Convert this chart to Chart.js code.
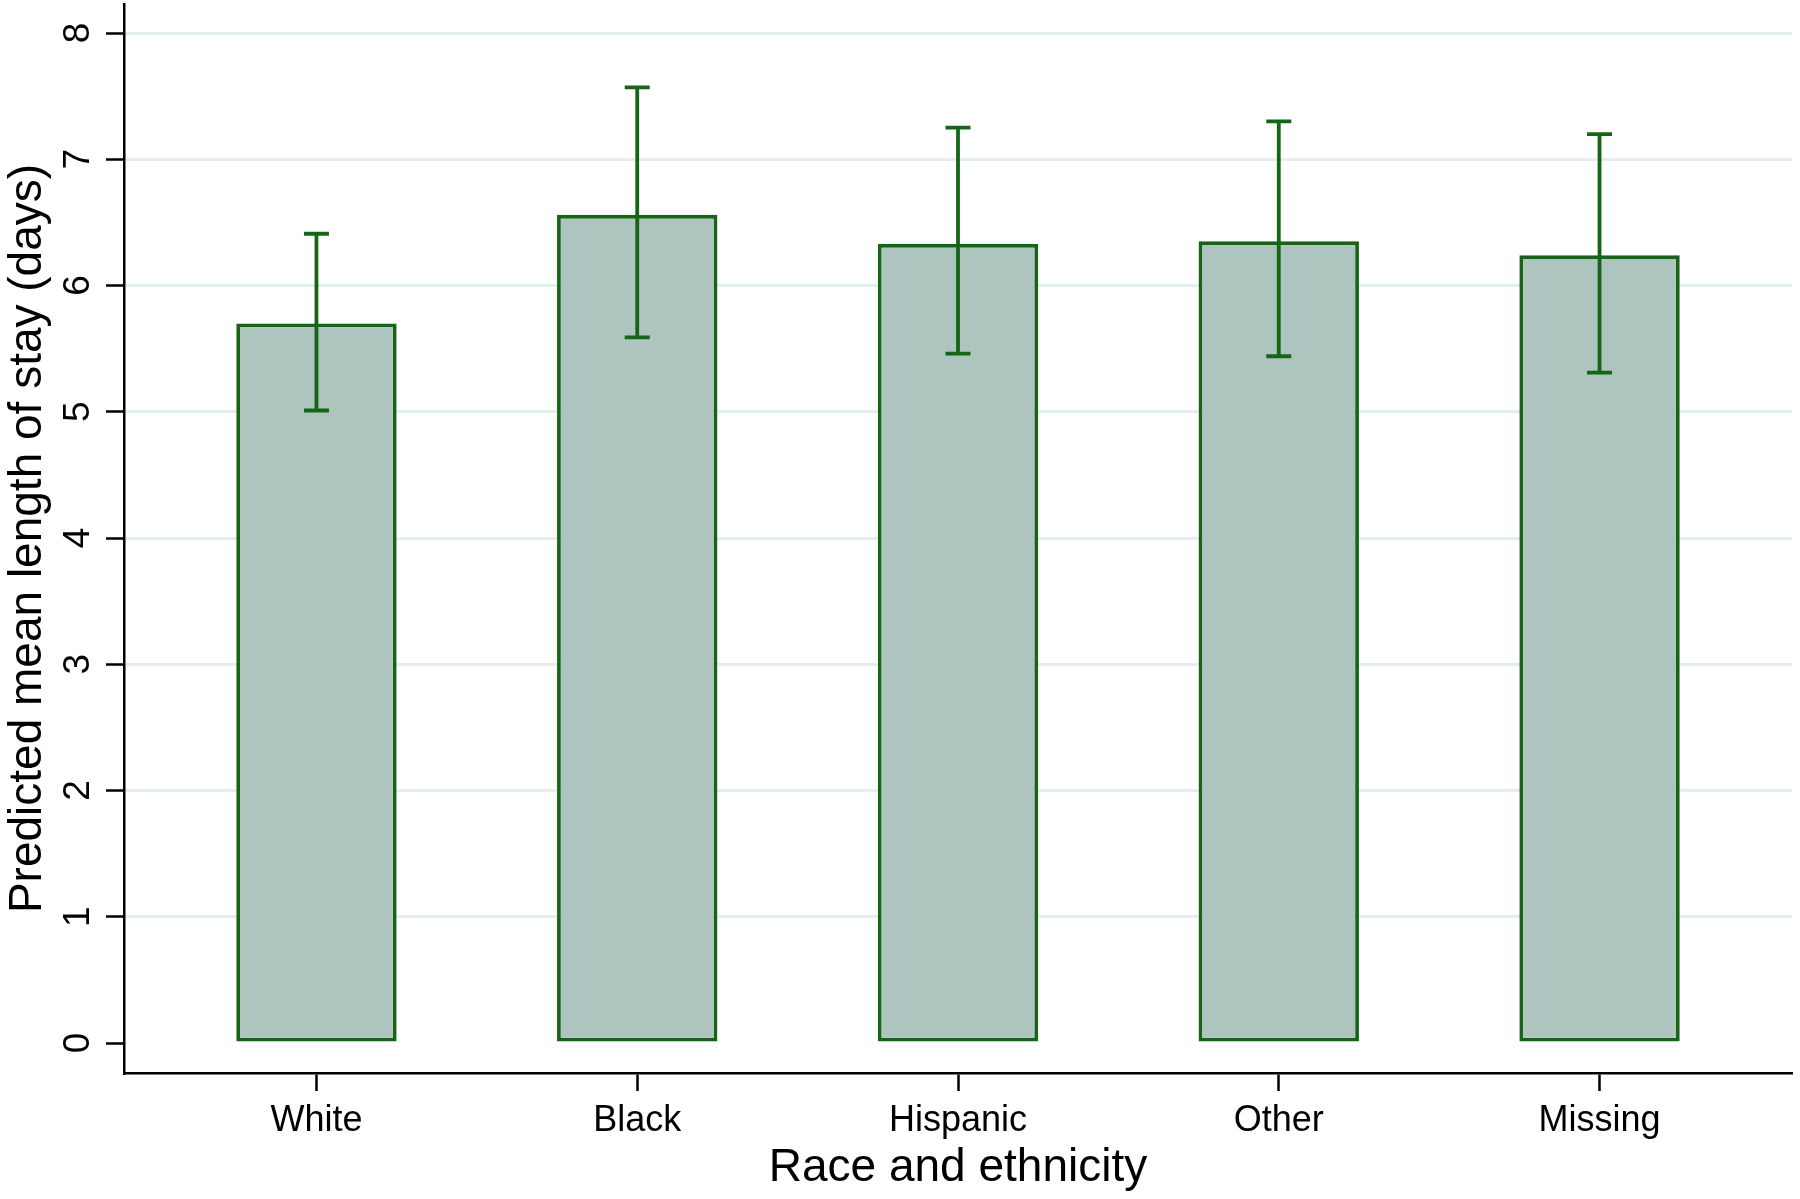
<!DOCTYPE html>
<html>
<head>
<meta charset="utf-8">
<title>Predicted mean length of stay by race and ethnicity</title>
<script src="https://cdn.jsdelivr.net/npm/chart.js@4.4.0/dist/chart.umd.min.js"></script>
<style>
  html, body { margin: 0; padding: 0; background: #fff; }
  #wrap { width: 1800px; height: 1199px; position: relative; }
</style>
</head>
<body>
<div id="wrap"><canvas id="losChart"></canvas></div>
<script>
// Values
var categories = ['White', 'Black', 'Hispanic', 'Other', 'Missing'];
var meanStay = [5.70, 6.56, 6.33, 6.35, 6.24];
var ciLower = [5.01, 5.59, 5.46, 5.44, 5.31];
var ciUpper = [6.41, 7.57, 7.25, 7.30, 7.20];
var yTicks = [0, 1, 2, 3, 4, 5, 6, 7, 8];

var green = '#156515';

Chart.defaults.font.family = '"Liberation Sans", Arial, Helvetica, sans-serif';
Chart.defaults.color = '#000';

// Draw the confidence intervals on top of the bars
var errorBars = {
    id: 'errorBars',
    afterDatasetsDraw: function(chart) {
        var ctx = chart.ctx;
        var xs = chart.scales.x;
        var ys = chart.scales.y;
        ctx.save();
        ctx.strokeStyle = green;
        ctx.lineWidth = 3.8;
        categories.forEach(function(c, i) {
            var px = xs.getPixelForValue(i);
            var top = ys.getPixelForValue(ciUpper[i]);
            var bot = ys.getPixelForValue(ciLower[i]);
            ctx.beginPath();
            ctx.moveTo(px, top);
            ctx.lineTo(px, bot);
            ctx.moveTo(px - 12.5, top);
            ctx.lineTo(px + 12.5, top);
            ctx.moveTo(px - 12.5, bot);
            ctx.lineTo(px + 12.5, bot);
            ctx.stroke();
        });
        ctx.restore();
    }
};

var ctx = document.getElementById('losChart').getContext('2d');
new Chart(ctx, {
    type: 'bar',
    data: {
        datasets: [{
            data: meanStay.map(function(v, i) { return { x: i, y: v }; }),
            backgroundColor: '#adc4bf',
            borderColor: green,
            borderWidth: 3.8,
            borderSkipped: false,
            barPercentage: 0.5,
            categoryPercentage: 1
        }]
    },
    options: {
        responsive: true,
        maintainAspectRatio: false,
        animation: false,
        layout: { padding: { top: 4, right: 8, left: 0, bottom: 0 } },
        plugins: {
            legend: { display: false },
            tooltip: { enabled: false }
        },
        scales: {
            x: {
                type: 'linear',
                min: -0.6,
                max: 4.6,
                bounds: 'data',
                offset: false,
                afterBuildTicks: function(s) {
                    s.ticks = categories.map(function(c, i) { return { value: i }; });
                },
                afterFit: function(s) {
                    s.height = 126;
                    s.paddingLeft = 0;
                    s.paddingRight = 0;
                },
                grid: { offset: false, drawOnChartArea: false, tickLength: 18, tickColor: '#000', tickWidth: 2.5 },
                border: { color: '#000', width: 2.5 },
                ticks: {
                    padding: 8,
                    maxRotation: 0,
                    autoSkip: false,
                    font: { size: 36 },
                    callback: function(v) { return categories[v]; }
                },
                title: {
                    display: true,
                    text: 'Race and ethnicity',
                    font: { size: 46 },
                    padding: { top: 0, bottom: 3 }
                }
            },
            y: {
                type: 'linear',
                min: -0.2375,
                max: 8.23,
                bounds: 'data',
                afterBuildTicks: function(s) {
                    s.ticks = yTicks.map(function(v) { return { value: v }; });
                },
                afterFit: function(s) {
                    s.width = 124;
                    s.paddingTop = 0;
                    s.paddingBottom = 0;
                },
                grid: {
                    color: function(c) {
                        return (c.tick && c.tick.value === 0) ? 'rgba(0,0,0,0)' : '#e3eef0';
                    },
                    lineWidth: 3,
                    tickLength: 18,
                    tickColor: '#000',
                    tickWidth: 2.5
                },
                border: { color: '#000', width: 2.5 },
                ticks: {
                    minRotation: 90,
                    maxRotation: 90,
                    crossAlign: 'center',
                    padding: 17,
                    font: { size: 37 }
                },
                title: {
                    display: true,
                    text: 'Predicted mean length of stay (days)',
                    font: { size: 46 },
                    padding: { top: 1, bottom: 0 }
                }
            }
        }
    },
    plugins: [errorBars]
});
</script>
</body>
</html>
